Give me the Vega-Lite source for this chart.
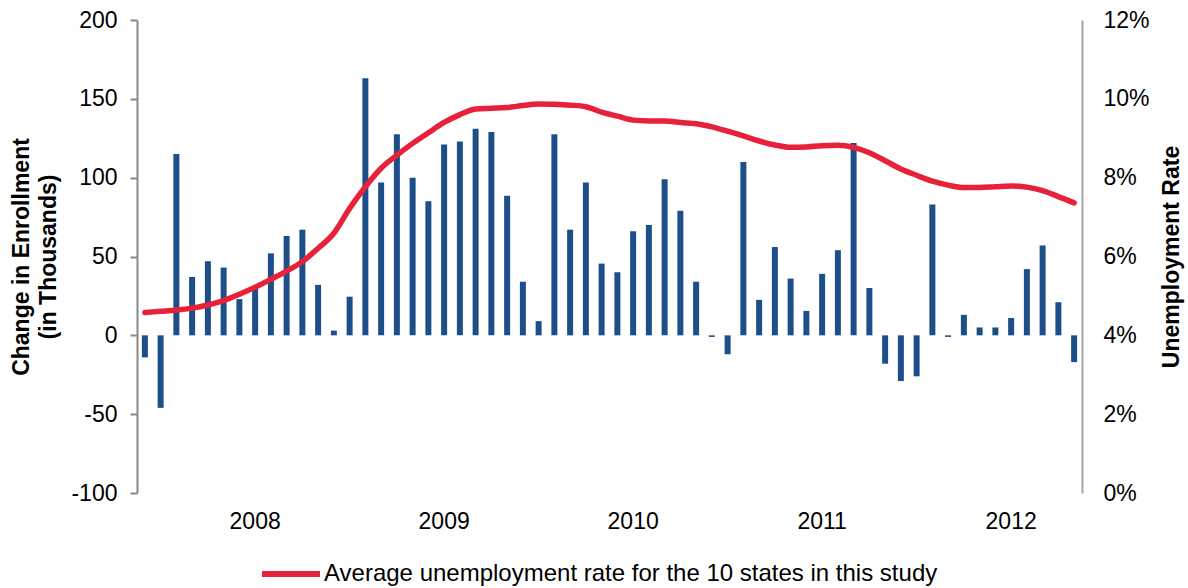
{
  "$schema": "https://vega.github.io/schema/vega-lite/v6.json",
  "width": 945,
  "height": 473,
  "autosize": {"type": "none"},
  "padding": {"left": 137, "top": 20, "right": 106, "bottom": 95},
  "background": "white",
  "config": {"view": {"stroke": null}, "font": "Liberation Sans", "axis": {"grid": false}},
  "data": {"values": [
    {"month": "2007-06", "change": -14, "rate": 0.0458},
    {"month": "2007-07", "change": -46, "rate": 0.0461},
    {"month": "2007-08", "change": 115, "rate": 0.0464},
    {"month": "2007-09", "change": 37, "rate": 0.0469},
    {"month": "2007-10", "change": 47, "rate": 0.0477},
    {"month": "2007-11", "change": 43, "rate": 0.0488},
    {"month": "2007-12", "change": 23, "rate": 0.0504},
    {"month": "2008-01", "change": 31, "rate": 0.0522},
    {"month": "2008-02", "change": 52, "rate": 0.0542},
    {"month": "2008-03", "change": 63, "rate": 0.0563},
    {"month": "2008-04", "change": 67, "rate": 0.0587},
    {"month": "2008-05", "change": 32, "rate": 0.0621},
    {"month": "2008-06", "change": 3, "rate": 0.0659},
    {"month": "2008-07", "change": 24.5, "rate": 0.0722},
    {"month": "2008-08", "change": 163, "rate": 0.0777},
    {"month": "2008-09", "change": 97, "rate": 0.0824},
    {"month": "2008-10", "change": 127.5, "rate": 0.0857},
    {"month": "2008-11", "change": 100, "rate": 0.0887},
    {"month": "2008-12", "change": 85, "rate": 0.0914},
    {"month": "2009-01", "change": 121, "rate": 0.094},
    {"month": "2009-02", "change": 123, "rate": 0.096},
    {"month": "2009-03", "change": 131, "rate": 0.0974},
    {"month": "2009-04", "change": 129, "rate": 0.0976},
    {"month": "2009-05", "change": 88.5, "rate": 0.0978},
    {"month": "2009-06", "change": 34, "rate": 0.0983},
    {"month": "2009-07", "change": 9, "rate": 0.0987},
    {"month": "2009-08", "change": 127.5, "rate": 0.0986},
    {"month": "2009-09", "change": 67, "rate": 0.0984},
    {"month": "2009-10", "change": 97, "rate": 0.098},
    {"month": "2009-11", "change": 45.5, "rate": 0.0966},
    {"month": "2009-12", "change": 40, "rate": 0.0956},
    {"month": "2010-01", "change": 66, "rate": 0.0946},
    {"month": "2010-02", "change": 70, "rate": 0.0944},
    {"month": "2010-03", "change": 99, "rate": 0.0944},
    {"month": "2010-04", "change": 79, "rate": 0.094},
    {"month": "2010-05", "change": 34, "rate": 0.0937},
    {"month": "2010-06", "change": -1, "rate": 0.0929},
    {"month": "2010-07", "change": -12, "rate": 0.0918},
    {"month": "2010-08", "change": 110, "rate": 0.0906},
    {"month": "2010-09", "change": 22.5, "rate": 0.0893},
    {"month": "2010-10", "change": 56, "rate": 0.0883},
    {"month": "2010-11", "change": 36, "rate": 0.0877},
    {"month": "2010-12", "change": 15.5, "rate": 0.0878},
    {"month": "2011-01", "change": 39, "rate": 0.0881},
    {"month": "2011-02", "change": 54, "rate": 0.0882},
    {"month": "2011-03", "change": 122, "rate": 0.0877},
    {"month": "2011-04", "change": 30, "rate": 0.0863},
    {"month": "2011-05", "change": -18, "rate": 0.0843},
    {"month": "2011-06", "change": -29, "rate": 0.0822},
    {"month": "2011-07", "change": -26, "rate": 0.0806},
    {"month": "2011-08", "change": 83, "rate": 0.0791},
    {"month": "2011-09", "change": -1, "rate": 0.0781},
    {"month": "2011-10", "change": 13, "rate": 0.0775},
    {"month": "2011-11", "change": 5, "rate": 0.0775},
    {"month": "2011-12", "change": 5, "rate": 0.0777},
    {"month": "2012-01", "change": 11, "rate": 0.0779},
    {"month": "2012-02", "change": 42, "rate": 0.0776},
    {"month": "2012-03", "change": 57, "rate": 0.0767},
    {"month": "2012-04", "change": 21, "rate": 0.0752},
    {"month": "2012-05", "change": -17, "rate": 0.0736}
  ]},
  "encoding": {
    "x": {
      "field": "month",
      "type": "ordinal",
      "scale": {"paddingInner": 0.62, "paddingOuter": 0.31},
      "axis": {
        "title": null,
        "labelExpr": "slice(datum.value,5)=='01' ? slice(datum.value,0,4) : ''",
        "labelAngle": 0,
        "labelOverlap": false,
        "ticks": false,
        "tickSize": 0,
        "domain": false,
        "labelFontSize": 23,
        "labelColor": "black",
        "labelPadding": 17
      }
    }
  },
  "layer": [
    {
      "layer": [
        {
          "mark": {"type": "bar", "color": "#1C4E8A"},
          "encoding": {
            "y": {
              "field": "change",
              "type": "quantitative",
              "scale": {"domain": [-100, 200], "nice": false},
              "axis": {
                "values": [-100, -50, 0, 50, 100, 150, 200],
                "labelExpr": "toString(datum.value)",
                "title": ["Change in Enrollment", "(in Thousands)"],
                "titleFontSize": 23,
                "titleFontWeight": "bold",
                "titleColor": "black",
                "titleLineHeight": 27,
                "titlePadding": 10,
                "labelFontSize": 23,
                "labelColor": "black",
                "labelPadding": 13,
                "domainColor": "#888888",
                "domainWidth": 2,
                "tickColor": "#888888",
                "tickWidth": 2,
                "tickSize": 7
              }
            }
          }
        },
        {
          "mark": {"type": "rule", "color": "#888888", "strokeWidth": 2},
          "encoding": {"y": {"datum": 0, "type": "quantitative"}}
        }
      ]
    },
    {
      "mark": {"type": "line", "strokeWidth": 5.5, "interpolate": "monotone", "strokeCap": "round"},
      "encoding": {
        "y": {
          "field": "rate",
          "type": "quantitative",
          "scale": {"domain": [0, 0.12], "nice": false},
          "axis": {
            "orient": "right",
            "values": [0, 0.02, 0.04, 0.06, 0.08, 0.1, 0.12],
            "format": ".0%",
            "title": "Unemployment Rate",
            "titleAngle": -90,
            "titleFontSize": 23,
            "titleFontWeight": "bold",
            "titleColor": "black",
            "titlePadding": 34,
            "labelFontSize": 23,
            "labelColor": "black",
            "labelPadding": 21,
            "ticks": false,
            "tickSize": 0,
            "domainColor": "#a6a6a6",
            "domainWidth": 2
          }
        },
        "color": {
          "datum": "Average unemployment rate for the 10 states in this study",
          "type": "nominal",
          "scale": {"range": ["#E8213A"]},
          "legend": {
            "orient": "none",
            "legendX": 122,
            "legendY": 522,
            "title": null,
            "padding": 0,
            "symbolType": "stroke",
            "symbolSize": 3364,
            "symbolStrokeWidth": 6,
            "labelFontSize": 24,
            "labelColor": "black",
            "labelOffset": 1,
            "labelLimit": 1000
          }
        }
      }
    }
  ],
  "resolve": {"scale": {"y": "independent"}}
}
